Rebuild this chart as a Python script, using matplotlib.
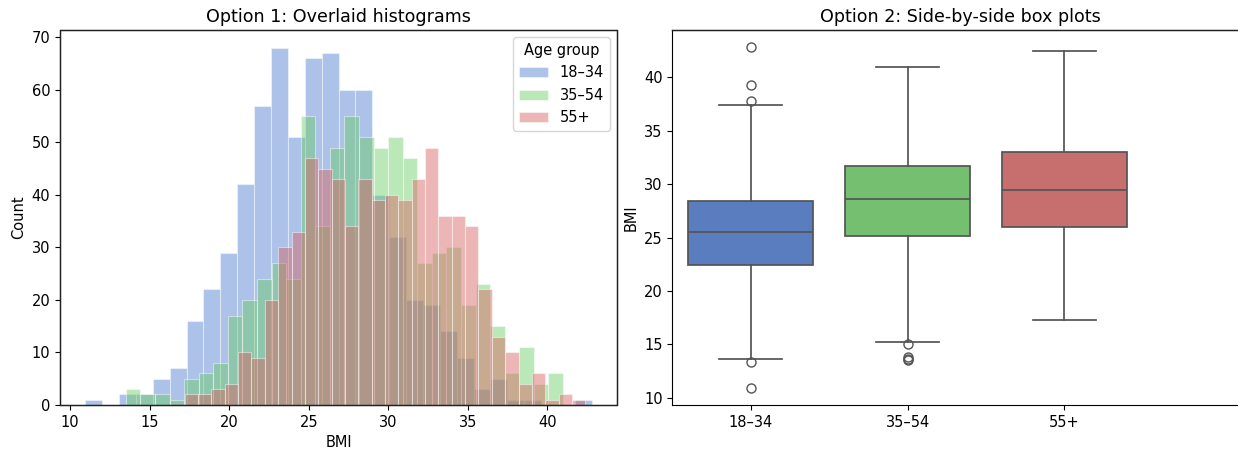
import numpy as np
import matplotlib
matplotlib.use("Agg")
import matplotlib.pyplot as plt
from matplotlib.patches import Rectangle
import seaborn as sns

plt.rcdefaults()

groups = ["18–34", "35–54", "55+"]

# histogram: each group has its own 30 bins between its min and max BMI
bmi_min = [10.95, 13.50, 17.20]
bmi_max = [42.80, 41.00, 42.40]
counts_1834 = [1, 0, 2, 2, 5, 7, 16, 22, 29, 42, 57, 68, 51, 66, 67,
               60, 60, 40, 32, 20, 19, 14, 9, 3, 5, 1, 1, 0, 0, 1]
counts_3554 = [3, 2, 2, 1, 5, 6, 8, 17, 20, 24, 27, 24, 55, 34, 49,
               55, 51, 49, 51, 47, 27, 29, 30, 19, 23, 15, 6, 11, 4, 6]
counts_55 = [2, 2, 3, 4, 10, 9, 20, 30, 33, 47, 45, 43, 34, 43, 39,
             40, 39, 43, 49, 36, 36, 34, 22, 13, 10, 4, 6, 1, 2, 1]

# box plot summary
q1 = [22.48, 25.18, 25.97]
med = [25.56, 28.58, 29.42]
q3 = [28.45, 31.72, 32.97]
whislo = [13.64, 15.26, 17.25]
whishi = [37.39, 40.96, 42.43]
fliers = [[42.83, 39.32, 37.76, 13.39, 10.93],
          [15.04, 13.79, 13.65, 13.55],
          []]

pal = sns.color_palette("muted")
colors = [pal[0], pal[2], pal[3]]

fig = plt.figure(figsize=(12.38, 4.5), dpi=100)
ax1 = fig.add_axes([60 / 1238, 45 / 450, 557 / 1238, 375 / 450])
ax2 = fig.add_axes([672.3 / 1238, 45 / 450, 575.7 / 1238, 375 / 450])

all_counts = [counts_1834, counts_3554, counts_55]
for lo, hi, cnt, col, name in zip(bmi_min, bmi_max, all_counts, colors, groups):
    edges = np.linspace(lo, hi, len(cnt) + 1)
    ax1.hist(edges[:-1], bins=edges, weights=cnt, color=col, alpha=0.45,
             edgecolor="white", linewidth=0.8, label=name)
ax1.set_title("Option 1: Overlaid histograms", fontsize=12.6)
ax1.set_xlabel("BMI", fontsize=10.5)
ax1.set_ylabel("Count", fontsize=10.5)
ax1.tick_params(labelsize=10.5)
ax1.legend(title="Age group", loc="upper right", fontsize=10.5, title_fontsize=10.5)

stats = []
for i, g in enumerate(groups):
    stats.append(dict(label=g, q1=q1[i], med=med[i], q3=q3[i],
                      whislo=whislo[i], whishi=whishi[i], fliers=fliers[i]))
line_col = (0.33, 0.33, 0.33)
bp = ax2.bxp(stats, positions=range(len(groups)), widths=0.8, patch_artist=True,
             boxprops=dict(edgecolor=line_col, linewidth=1.25),
             medianprops=dict(color=line_col, linewidth=1.25),
             whiskerprops=dict(color=line_col, linewidth=1.25),
             capprops=dict(color=line_col, linewidth=1.25),
             flierprops=dict(marker="o", markerfacecolor="none",
                             markeredgecolor=line_col, markersize=6.5))
for patch, col in zip(bp["boxes"], colors):
    patch.set_facecolor(sns.desaturate(col, 0.75))
ax2.set_xlim(-0.5, 3.17)
ax2.set_ylabel("BMI", fontsize=10.5)
ax2.tick_params(labelsize=10.5)
ax2.set_title("Option 2: Side-by-side box plots", fontsize=12.6)

# frame: full box on the left panel, top edge on the right one (its right side is off the canvas)
ax1.add_patch(Rectangle((0, 0), 1, 1, transform=ax1.transAxes, fill=False,
                        edgecolor="#222222", linewidth=1.0, clip_on=False, zorder=5))
ax2.plot([0, 1], [1, 1], transform=ax2.transAxes, color="#222222",
         linewidth=1.0, clip_on=False, zorder=5)

fig.savefig("out.png", dpi=100)
